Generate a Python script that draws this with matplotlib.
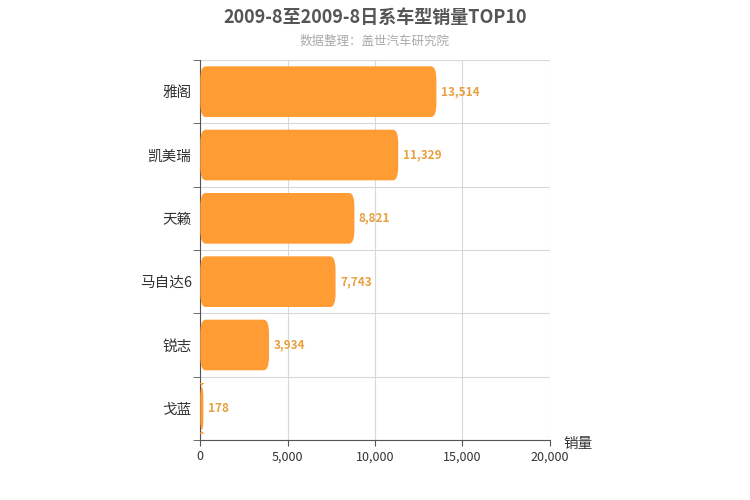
import matplotlib
matplotlib.use("Agg")
import matplotlib.pyplot as plt
from matplotlib.patches import FancyBboxPatch

plt.rcParams["font.family"] = ["Noto Sans CJK SC", "DejaVu Sans"]

categories = ["雅阁", "凯美瑞", "天籁", "马自达6", "锐志", "戈蓝"]
values = [13514, 11329, 8821, 7743, 3934, 178]
xticks = [0, 5000, 10000, 15000, 20000]
xtick_labels = ["0", "5,000", "10,000", "15,000", "20,000"]

fig = plt.figure(figsize=(7.5, 5), dpi=100)
ax = fig.add_axes([0.267, 0.12, 0.466, 0.76])
n = len(categories)
ys = list(range(n))
bars = ax.barh(ys, values, height=0.8, color="none")
for b in bars:
    x0, y0, w, h = b.get_x(), b.get_y(), b.get_width(), b.get_height()
    p = FancyBboxPatch((x0, y0), w, h, boxstyle="round,pad=0,rounding_size=300",
                       mutation_aspect=0.8 / 1000 * 0.9, facecolor="#FF9C33",
                       edgecolor="none", zorder=3)
    ax.add_patch(p)
    ax.text(w + 250, y0 + h / 2, f"{w:,.0f}", va="center", ha="left",
            color="#E8A040", fontsize=8.5, fontweight="bold", zorder=4)

ax.set_xlim(0, 20000)
ax.set_ylim(n - 0.5, -0.5)
ax.set_yticks(ys)
ax.set_yticklabels(categories, fontsize=10.5, color="#333333")
ax.set_xticks(xticks)
ax.set_xticklabels(xtick_labels, fontsize=9, color="#333333")
ax.set_yticks([i - 0.5 for i in range(n + 1)], minor=True)
ax.grid(True, axis="x", color="#d8d8d8", lw=0.8, zorder=0)
ax.grid(True, axis="y", which="minor", color="#d8d8d8", lw=0.8, zorder=0)
ax.tick_params(axis="y", which="major", length=0, pad=6)
ax.tick_params(axis="y", which="minor", length=5, color="#555555")
ax.tick_params(axis="x", length=4, color="#555555")
for s in ["top", "right"]:
    ax.spines[s].set_visible(False)
ax.spines["bottom"].set_color("#555555")
ax.spines["left"].set_color("#555555")
ax.text(1.04, -0.01, "销量", transform=ax.transAxes, fontsize=10.5, color="#333333", va="center")

fig.text(0.5, 0.965, "2009-8至2009-8日系车型销量TOP10", ha="center", va="center",
         fontsize=13, fontweight="bold", color="#555555")
fig.text(0.5, 0.918, "数据整理：盖世汽车研究院", ha="center", va="center",
         fontsize=9, color="#aaaaaa")
fig.savefig("out.png", dpi=100)
